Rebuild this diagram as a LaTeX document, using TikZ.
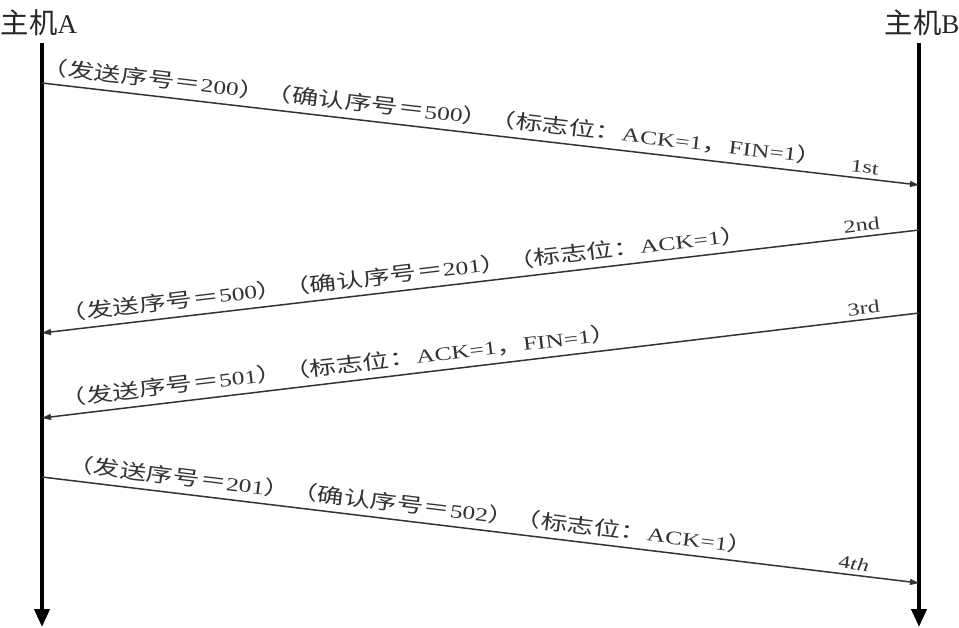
\documentclass[tikz,border=0pt]{standalone}
\usepackage{fontspec}
\usepackage{graphicx}
\setmainfont{Liberation Serif}
\newfontfamily\cjk[Scale=1.05]{Noto Sans CJK SC}
\usetikzlibrary{arrows.meta,positioning}
\newcommand{\widetext}[1]{\scalebox{1.34}[1]{#1}}
\begin{document}
\begin{tikzpicture}[x=1pt,y=-1pt,
  host/.style={font=\fontsize{27}{29}\selectfont, inner sep=0pt, text=black!85},
  life/.style={line width=4pt, -{Triangle[length=18pt,width=15pt]}},
  msg/.style={line width=1.5pt, black!80, -{Triangle[length=9pt,width=6pt]}},
  lbl/.style={sloped, above=5pt, anchor=south west, inner sep=2pt, font=\fontsize{19}{21}\selectfont, text=black!80},
  ord/.style={sloped, above=3pt, anchor=south east, inner sep=2pt, font=\fontsize{18}{20}\selectfont, text=black!80}]
\useasboundingbox (0,0) rectangle (959,628);
% lifelines
\coordinate (A0) at (42,43);
\coordinate (A9) at (42,627);
\coordinate (B0) at (919,43);
\coordinate (B9) at (919,627);
\node [host, above=7pt of A0, xshift=-3pt] (hA) {{\cjk 主机}A};
\node [host, above=7pt of B0, xshift=3pt] (hB) {{\cjk 主机}B};
\draw [life] (A0) -- (A9);
\draw [life] (B0) -- (B9);
% message ends
\coordinate (a1) at (42,83);
\coordinate (b1) at (919,185);
\coordinate (b2) at (919,230);
\coordinate (a2) at (42,333);
\coordinate (b3) at (919,313);
\coordinate (a3) at (42,418);
\coordinate (a4) at (42,477);
\coordinate (b4) at (919,583);
% 1st
\draw [msg] (a1) -- (b1);
\path (a1) -- (b1)
  node [lbl, pos=-0.005] (t1) {\widetext{{\cjk （发送序号＝}200{\cjk ）（确认序号＝}500{\cjk ）（标志位：}ACK=1{\cjk ，}FIN=1{\cjk ）}}}
  node [ord, pos=0.955] (o1) {\widetext{1st}};
% 2nd
\draw [msg] (b2) -- (a2);
\path (a2) -- (b2)
  node [lbl, pos=0.02] (t2) {\widetext{{\cjk （发送序号＝}500{\cjk ）（确认序号＝}201{\cjk ）（标志位：}ACK=1{\cjk ）}}}
  node [ord, pos=0.959] (o2) {\widetext{2nd}};
% 3rd
\draw [msg] (b3) -- (a3);
\path (a3) -- (b3)
  node [lbl, pos=0.02] (t3) {\widetext{{\cjk （发送序号＝}501{\cjk ）（标志位：}ACK=1{\cjk ，}FIN=1{\cjk ）}}}
  node [ord, pos=0.959] (o3) {\widetext{3rd}};
% 4th
\draw [msg] (a4) -- (b4);
\path (a4) -- (b4)
  node [lbl, pos=0.024] (t4) {\widetext{{\cjk （发送序号＝}201{\cjk ）（确认序号＝}502{\cjk ）（标志位：}ACK=1{\cjk ）}}}
  node [ord, pos=0.944] (o4) {\widetext{4\textit{th}}};
\end{tikzpicture}
\end{document}
